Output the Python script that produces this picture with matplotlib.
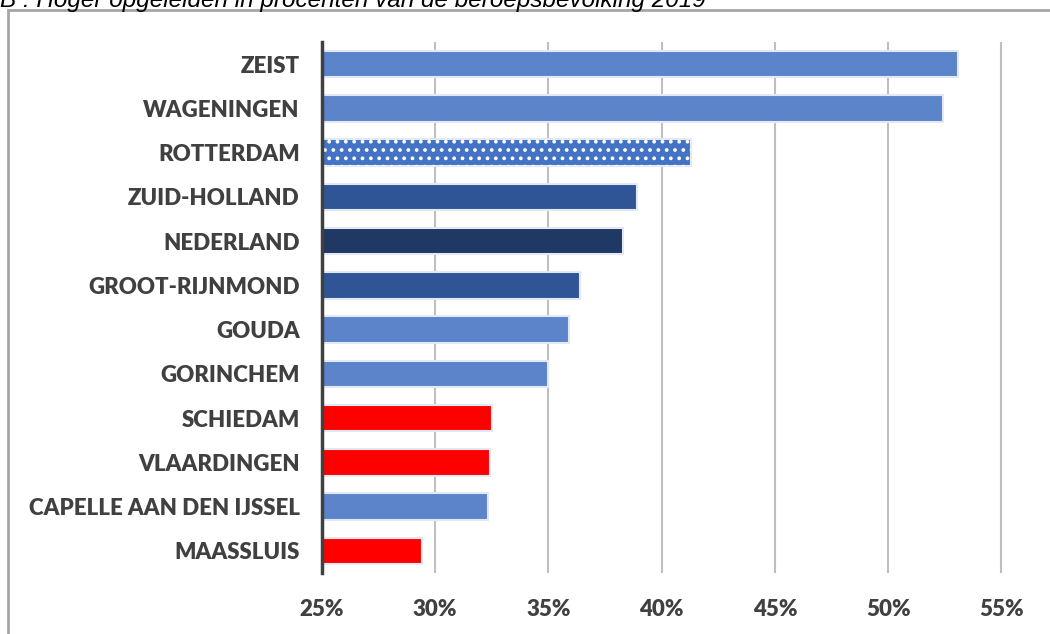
import matplotlib.pyplot as plt
from matplotlib.patches import Rectangle
from matplotlib.ticker import FuncFormatter

# data (top to bottom)
places = ["ZEIST", "WAGENINGEN", "ROTTERDAM", "ZUID-HOLLAND", "NEDERLAND",
          "GROOT-RIJNMOND", "GOUDA", "GORINCHEM", "SCHIEDAM", "VLAARDINGEN",
          "CAPELLE AAN DEN IJSSEL", "MAASSLUIS"]
pct = [53.1, 52.4, 41.3, 38.9, 38.3, 36.4, 35.9, 35.0, 32.5, 32.4, 32.35, 29.4]
kind = ["gem", "gem", "rdam", "regio", "nl", "regio", "gem", "gem",
        "rood", "rood", "gem", "rood"]
xticks = [25, 30, 35, 40, 45, 50, 55]

colors = {"gem": "#5B84CB", "rdam": "#4472C4", "regio": "#2F5597",
          "nl": "#1F3864", "rood": "#FF0000"}

fig = plt.figure(figsize=(10.5, 6.34), dpi=100)
ax = fig.add_axes([322 / 1050, 1 - 573 / 634, (1006 - 322) / 1050, (573 - 42) / 634])

ypos = list(range(len(places)))
bar_cols = [colors[k] for k in kind]
ax.barh(ypos, [p - 25 for p in pct], left=25, height=0.6, color=bar_cols,
        edgecolor="#E3E9F4", linewidth=1.5, zorder=3)

# dotted pattern on Rotterdam
i = places.index("ROTTERDAM")
plt.rcParams["hatch.linewidth"] = 1.5
ax.barh(ypos[i], pct[i] - 25, left=25, height=0.6, facecolor="none",
        edgecolor="white", hatch="..", linewidth=0, zorder=4)

ax.set_ylim(len(places) - 0.5, -0.5)
ax.set_xlim(25, 55.2)
ax.set_yticks(ypos)
ax.set_yticklabels(places, fontfamily="Lato", fontweight="heavy",
                   fontsize=16, color="#404040")
ax.set_xticks(xticks)
ax.xaxis.set_major_formatter(FuncFormatter(lambda v, _: f"{v:.0f}%"))
for lab in ax.get_xticklabels():
    lab.set_fontfamily("Lato")
    lab.set_fontweight("heavy")
    lab.set_fontsize(16)
    lab.set_color("#404040")
ax.tick_params(axis="y", length=0, pad=16)
ax.tick_params(axis="x", length=0, pad=19)
ax.grid(axis="x", color="#BFBFBF", linewidth=1.5, zorder=0)
for s in ["top", "right", "bottom"]:
    ax.spines[s].set_visible(False)
ax.spines["left"].set_color("#404040")
ax.spines["left"].set_linewidth(2.5)
ax.spines["left"].set_zorder(5)

# outer frame and clipped title
fig.patches.append(Rectangle((8 / 1050, -0.01), 1.02, 1 - 10 / 634 + 0.01,
                             transform=fig.transFigure, fill=False,
                             edgecolor="#A6A6A6", linewidth=2))
fig.text(0.0, 1 - 7 / 634, "B : Hoger opgeleiden in procenten van de beroepsbevolking 2019",
         fontfamily="Liberation Sans", fontstyle="italic", fontsize=17.5,
         va="baseline", ha="left", color="#000000")

fig.savefig("out.png", dpi=100)
